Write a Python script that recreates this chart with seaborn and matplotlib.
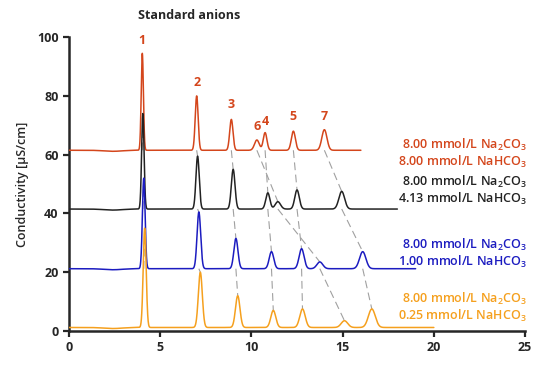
import numpy as np
import pandas as pd
import matplotlib
matplotlib.use("Agg")
import matplotlib.pyplot as plt
import seaborn as sns

# eluent conditions (top to bottom)
conditions = ["8.00/8.00", "8.00/4.13", "8.00/1.00", "8.00/0.25"]
colors = ["#d4461c", "#222222", "#1c1cc0", "#f5a01e"]
labels = [
    ["8.00 mmol/L Na$_2$CO$_3$", "8.00 mmol/L NaHCO$_3$"],
    ["8.00 mmol/L Na$_2$CO$_3$", "4.13 mmol/L NaHCO$_3$"],
    ["8.00 mmol/L Na$_2$CO$_3$", "1.00 mmol/L NaHCO$_3$"],
    ["8.00 mmol/L Na$_2$CO$_3$", "0.25 mmol/L NaHCO$_3$"],
]
baselines = [61.5, 41.5, 21.2, 1.2]
run_end = [16.0, 18.0, 19.0, 20.0]

# peaks in order 1,2,3,4,5,6,7 : retention time [min], apex value [uS/cm]
peak_ids = ["1", "2", "3", "4", "5", "6", "7"]
rt = [
    [4.02, 7.00, 8.90, 10.75, 12.30, 10.30, 14.00],
    [4.05, 7.05, 9.00, 10.90, 12.50, 11.45, 14.95],
    [4.10, 7.12, 9.15, 11.10, 12.75, 13.75, 16.10],
    [4.15, 7.20, 9.25, 11.20, 12.80, 15.10, 16.60],
]
apex = [
    [94.5, 80.0, 72.0, 67.5, 68.0, 65.0, 68.5],
    [74.0, 59.5, 55.0, 47.0, 48.0, 44.0, 47.5],
    [52.0, 40.5, 31.5, 27.0, 28.0, 23.5, 27.0],
    [35.0, 20.0, 12.0, 7.0, 7.5, 3.5, 7.5],
]
widths = [0.06, 0.08, 0.09, 0.10, 0.11, 0.13, 0.14]

rows = []
for i, cond in enumerate(conditions):
    t = np.linspace(0, run_end[i], 3000)
    s = np.full_like(t, baselines[i])
    s -= 0.35 * np.exp(-0.5 * ((t - 2.4) / 0.5) ** 2)
    for j in range(len(peak_ids)):
        w = widths[j] * (1 + 0.12 * i)
        s += (apex[i][j] - baselines[i]) * np.exp(-0.5 * ((t - rt[i][j]) / w) ** 2)
    rows.append(pd.DataFrame({"time": t, "signal": s, "cond": cond}))
df = pd.concat(rows, ignore_index=True)

sns.set_style("ticks")
plt.rcParams["font.family"] = ["Open Sans", "DejaVu Sans"]
plt.rcParams["mathtext.fontset"] = "custom"
plt.rcParams["mathtext.rm"] = "Open Sans:semibold"
plt.rcParams["mathtext.it"] = "Open Sans:semibold"

fig = plt.figure(figsize=(5.43, 3.66), dpi=100)
ax = fig.add_axes([0.127, 0.0956, 0.840, 0.803])

# dashed connectors between corresponding peaks
for j in range(len(peak_ids)):
    for i in range(len(conditions) - 1):
        ax.plot([rt[i][j], rt[i + 1][j]], [baselines[i], apex[i + 1][j]],
                color="#a0a0a0", lw=0.8, ls=(0, (7, 4)), zorder=1)

sns.lineplot(data=df, x="time", y="signal", hue="cond", palette=colors,
             hue_order=conditions, sort=False, lw=1.1, legend=False, ax=ax, zorder=3)

# peak numbers on the top trace
label_y = [99.0, 84.5, 77.2, 71.4, 73.1, 69.7, 73.1]
for j, pid in enumerate(peak_ids):
    ax.text(rt[0][j], label_y[j], pid, color=colors[0], fontsize=9,
            fontweight="bold", ha="center", va="center")

legend_y = [(63.3, 57.5), (50.7, 44.9), (29.3, 23.5), (10.9, 5.1)]
for i in range(len(conditions)):
    for k in range(2):
        ax.text(25.1, legend_y[i][k], labels[i][k], color=colors[i], fontsize=9,
                fontweight="semibold", ha="right", va="center")

ax.text(6.6, 107.5, "Standard anions", fontsize=9, fontweight="bold",
        ha="center", va="center")

ax.set_xlim(0, 25)
ax.set_ylim(0, 100)
ax.set_xticks([0, 5, 10, 15, 20, 25])
ax.set_yticks([0, 20, 40, 60, 80, 100])
ax.set_xlabel("")
ax.set_ylabel("Conductivity [µS/cm]", fontsize=9, fontweight="semibold", labelpad=6)
for sp in ["top", "right"]:
    ax.spines[sp].set_visible(False)
for sp in ["left", "bottom"]:
    ax.spines[sp].set_linewidth(1.8)
ax.tick_params(width=1.6, length=4, labelsize=9)
for lab in ax.get_xticklabels() + ax.get_yticklabels():
    lab.set_fontweight("bold")

fig.savefig("out.png", dpi=100)
